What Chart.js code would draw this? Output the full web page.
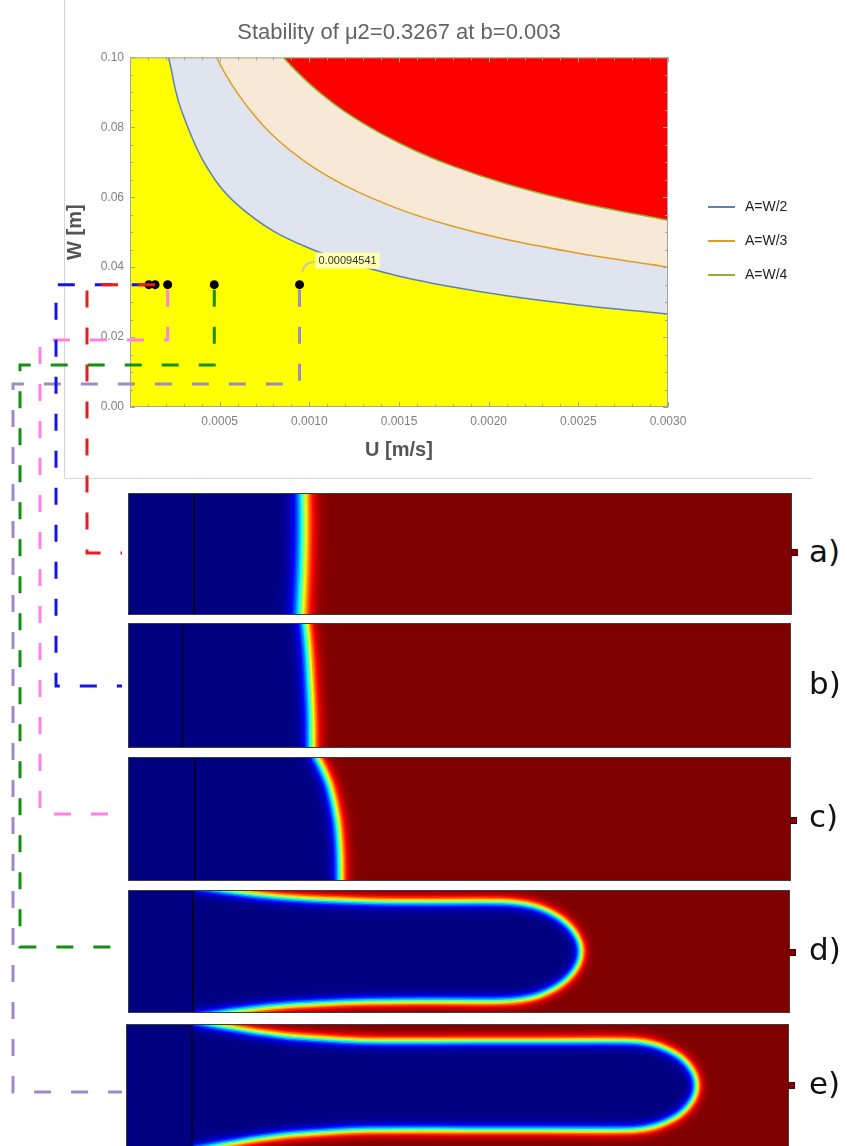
<!DOCTYPE html>
<html>
<head>
<meta charset="utf-8">
<title>Stability map</title>
<script src="https://cdn.jsdelivr.net/npm/chart.js@4.4.0/dist/chart.umd.min.js"></script>
<style>
  html, body { margin: 0; padding: 0; background: #fff; }
  #page { position: relative; width: 847px; height: 1146px; overflow: hidden; background: #fff; }
  #page canvas { position: absolute; }
  .tag { position: absolute; font-family: 'DejaVu Sans', Verdana, sans-serif; font-size: 31px; color: #111; line-height: 1; }
  .probe { position: absolute; width: 5px; height: 5px; background: #800000; border: 1px solid #4a0000; }
</style>
</head>
<body>
<div id="page">
  <canvas id="stability" width="847" height="480" style="left:0;top:0"></canvas>
</div>
<script>
// --- stability map: critical W(U) for each finger amplitude ---
const uHalf = [0.000215, 0.00023, 0.00025, 0.00027, 0.0003, 0.00035, 0.0004, 0.0005, 0.0006, 0.0008, 0.001, 0.0012, 0.0015, 0.0018, 0.0021, 0.0025, 0.003];
const wHalf = [0.1, 0.0966, 0.0915, 0.0875, 0.083, 0.0766, 0.0712, 0.0632, 0.0578, 0.0503, 0.0454, 0.0417, 0.0374, 0.0343, 0.0318, 0.0292, 0.0266];
const uThird = [0.000483, 0.00052, 0.0006, 0.0007, 0.0008, 0.001, 0.0012, 0.0015, 0.0018, 0.0021, 0.0025, 0.003];
const wThird = [0.1, 0.0963, 0.0897, 0.083, 0.0775, 0.0693, 0.0633, 0.0566, 0.0517, 0.0479, 0.044, 0.04];
const uQuarter = [0.000855, 0.0009, 0.001, 0.0011, 0.0012, 0.0014, 0.0016, 0.0018, 0.0021, 0.0025, 0.003];
const wQuarter = [0.1, 0.0975, 0.0925, 0.0882, 0.0844, 0.0782, 0.0731, 0.0689, 0.0638, 0.0585, 0.0534];
const curveNames = ['A=W/2', 'A=W/3', 'A=W/4'];
const uTickLabels = ['0.0005', '0.0010', '0.0015', '0.0020', '0.0025', '0.0030'];
const wTickLabels = ['0.00', '0.02', '0.04', '0.06', '0.08', '0.10'];

// simulated runs (all at W = 0.035 m)
const runU = [0.000105, 0.00014, 0.00021, 0.00047, 0.00094541];
const runW = 0.035;

// --- phase-field snapshots, channel coordinates in mm ---
const channelLength = 190;
const channelWidth = 35;
const panelTags = ['a)', 'b)', 'c)', 'd)', 'e)'];
const rodPos = [18.9, 15.7, 19.2, 18.6, 18.9];
const frontY = [0, 8.75, 17.5, 26.25, 35];
const frontA = [49.4, 49.8, 50.1, 50.2, 50.1];
const frontB = [52.6, 52.5, 52.1, 51.6, 50.8];
const frontCY = [0, 8.75, 17.5, 26.25, 31, 35];
const frontC = [60.8, 60.6, 59.8, 57.9, 56.0, 54.0];
// finger outlines: x along channel, depth of interface from the wall (upper half)
const fingerDX = [18.6, 30.3, 42.9, 57.2, 68.7, 85.8, 107.0, 112.7, 118.5, 124.5, 128.5, 129.9];
const fingerDDepth = [-1.15, 0.57, 2.0, 2.9, 3.3, 3.45, 3.45, 3.9, 5.3, 8.5, 12.8, 17.5];
const fingerEX = [18.9, 28.6, 43.8, 57.2, 69.2, 100, 120, 143.3, 148.5, 153.4, 158.7, 162.2, 163.4];
const fingerEDepth = [-0.9, 0.9, 3.2, 4.3, 4.9, 4.9, 4.9, 4.9, 5.3, 6.6, 9.4, 13.3, 17.5];

// --- layout (page pixels) ---
const panelBoxes = [
  { left: 128, top: 493, width: 664, height: 122 },
  { left: 128, top: 623, width: 663, height: 125 },
  { left: 128, top: 757, width: 663, height: 124 },
  { left: 128, top: 890, width: 662, height: 123 },
  { left: 126, top: 1024, width: 663, height: 123 }
];
const bandHalf = [28, 22, 20, 15, 15];
const bandSoft = [10, 8, 7, 5.5, 5.5];
const probeRows = [552, null, 820, 952, 1085];
const linkColors = ['#ee1a1a', '#1414e6', '#ff80e8', '#129012', '#9b8bc9'];
const linkFrom = [1, 0, 2, 3, 4];
const linkLaneX = [87, 56, 40, 20, 13];
const linkBendW = [null, null, 0.0192, 0.012, 0.0066];
const linkRowY = [553, 686, 814, 947, 1092];

Chart.defaults.font.family = "'Liberation Sans', Arial, sans-serif";

const toPoints = (xs, ys) => xs.map((x, i) => ({ x, y: ys[i] }));

// ---------- top chart ----------
const plotBackground = {
  id: 'plotBackground',
  beforeDatasetsDraw(chart) {
    const { ctx, chartArea: a } = chart;
    ctx.save();
    ctx.fillStyle = '#ffff00';
    ctx.fillRect(a.left, a.top, a.width, a.height);
    ctx.restore();
  }
};

// Mathematica-style frame with inward ticks on all four sides
const frameTicks = {
  id: 'frameTicks',
  afterDatasetsDraw(chart) {
    const { ctx, chartArea: a, scales: { x, y } } = chart;
    ctx.save();
    ctx.strokeStyle = '#a3a3a3';
    ctx.lineWidth = 1;
    ctx.strokeRect(a.left + 0.5, a.top + 0.5, a.width - 1, a.height - 1);
    ctx.beginPath();
    for (let k = 0; k <= 30; k++) {
      const px = Math.round(x.getPixelForValue(k * 0.0001)) + 0.5;
      const len = k % 5 === 0 ? 5 : 3;
      ctx.moveTo(px, a.bottom); ctx.lineTo(px, a.bottom - len);
      ctx.moveTo(px, a.top); ctx.lineTo(px, a.top + len);
    }
    for (let k = 0; k <= 20; k++) {
      const py = Math.round(y.getPixelForValue(k * 0.005)) + 0.5;
      const len = k % 4 === 0 ? 5 : 3;
      ctx.moveTo(a.left, py); ctx.lineTo(a.left + len, py);
      ctx.moveTo(a.right, py); ctx.lineTo(a.right - len, py);
    }
    ctx.stroke();
    // outline of the figure area
    ctx.strokeStyle = '#d6d6d6';
    ctx.beginPath();
    ctx.moveTo(64.5, 0); ctx.lineTo(64.5, 478.5); ctx.lineTo(812, 478.5);
    ctx.stroke();
    ctx.restore();
  }
};

// value callout next to the fastest run
const valueCallout = {
  id: 'valueCallout',
  afterDatasetsDraw(chart) {
    const idx = chart.data.datasets.findIndex(d => d.label === 'runs');
    const pt = chart.getDatasetMeta(idx).data[runU.length - 1];
    const { ctx } = chart;
    const x = pt.x, y = pt.y;
    ctx.save();
    ctx.strokeStyle = '#c4c4c4';
    ctx.lineWidth = 2;
    ctx.beginPath();
    ctx.moveTo(x + 3, y - 13);
    ctx.quadraticCurveTo(x + 4, y - 22, x + 15, y - 23);
    ctx.stroke();
    ctx.font = '11px "Liberation Sans", Arial, sans-serif';
    const text = String(runU[runU.length - 1]);
    const w = ctx.measureText(text).width;
    ctx.fillStyle = '#ffffb0';
    ctx.fillRect(x + 16, y - 32, w + 6, 16);
    ctx.fillStyle = '#333';
    ctx.textBaseline = 'middle';
    ctx.fillText(text, x + 19, y - 24);
    ctx.restore();
  }
};

const sideLegend = {
  id: 'sideLegend',
  afterDraw(chart) {
    const { ctx } = chart;
    ctx.save();
    ctx.font = '14px "Liberation Sans", Arial, sans-serif';
    ctx.textBaseline = 'middle';
    curveNames.forEach((name, i) => {
      const ds = chart.data.datasets.find(d => d.label === name);
      const y = 207 + i * 34;
      ctx.strokeStyle = ds.borderColor;
      ctx.lineWidth = 2;
      ctx.beginPath(); ctx.moveTo(708, y); ctx.lineTo(735, y); ctx.stroke();
      ctx.fillStyle = '#222';
      ctx.fillText(name, 745, y);
    });
    ctx.restore();
  }
};

const curveStyle = { borderWidth: 1.5, pointRadius: 0, cubicInterpolationMode: 'monotone', fill: 'end' };

const topChart = new Chart(document.getElementById('stability'), {
  type: 'line',
  data: {
    datasets: [
      { label: 'runs', data: runU.map(u => ({ x: u, y: runW })), showLine: false, pointRadius: 4.5,
        pointBackgroundColor: '#000', pointBorderColor: '#000', borderWidth: 0, order: 0 },
      { label: curveNames[2], data: toPoints(uQuarter, wQuarter), borderColor: '#8fb131', backgroundColor: '#ff0000', order: 1, ...curveStyle },
      { label: curveNames[1], data: toPoints(uThird, wThird), borderColor: '#e19c24', backgroundColor: '#f8e9d6', order: 2, ...curveStyle },
      { label: curveNames[0], data: toPoints(uHalf, wHalf), borderColor: '#5e81b5', backgroundColor: '#dfe4ef', order: 3, ...curveStyle }
    ]
  },
  options: {
    responsive: false,
    animation: false,
    events: [],
    layout: { padding: { left: 59, right: 179, top: 0, bottom: 14 } },
    plugins: {
      legend: { display: false },
      tooltip: { enabled: false },
      title: {
        display: true,
        fullSize: false,
        text: 'Stability of \u03bc2=0.3267 at b=0.003',
        color: '#636363',
        font: { size: 22, weight: 'normal' },
        padding: { top: 20, bottom: 11 }
      }
    },
    scales: {
      x: {
        type: 'linear', min: 0, max: 0.003,
        grid: { display: false, drawTicks: false },
        border: { display: false },
        ticks: {
          stepSize: 0.0005, autoSkip: false, maxRotation: 0, padding: 7,
          color: '#808080', font: { size: 12 },
          callback: (v, i) => (i === 0 ? '' : uTickLabels[i - 1])
        },
        title: { display: true, text: 'U [m/s]', color: '#555', font: { size: 20, weight: 'bold' }, padding: { top: 4, bottom: 4 } },
        afterFit: s => { s.height = 59; }
      },
      y: {
        type: 'linear', min: 0, max: 0.1,
        grid: { display: false, drawTicks: false },
        border: { display: false },
        ticks: {
          stepSize: 0.02, autoSkip: false, padding: 6,
          color: '#808080', font: { size: 12 },
          callback: (v, i) => wTickLabels[i]
        },
        title: { display: true, text: 'W [m]', color: '#555', font: { size: 20, weight: 'bold' }, padding: { top: 4, bottom: 4 } },
        afterFit: s => { s.width = 71; }
      }
    }
  },
  plugins: [plotBackground, frameTicks, valueCallout, sideLegend]
});

// ---------- snapshot panels ----------
const PX_PER_MM = 664 / channelLength;

function jet(t) {
  const c = v => Math.round(255 * Math.max(0, Math.min(1, v)));
  return `rgb(${c(1.5 - Math.abs(4 * t - 3))},${c(1.5 - Math.abs(4 * t - 2))},${c(1.5 - Math.abs(4 * t - 1))})`;
}

// shift a path sideways by dPx pixels (positive = towards the displaced phase)
function offsetPath(pts, dPx) {
  const d = dPx / PX_PER_MM;
  return pts.map((p, i) => {
    const a = pts[Math.max(i - 1, 0)], b = pts[Math.min(i + 1, pts.length - 1)];
    const tx = b.x - a.x, ty = b.y - a.y;
    const len = Math.hypot(tx, ty) || 1;
    return { x: p.x + d * ty / len, y: p.y - d * tx / len };
  });
}

function extendEnds(pts, mm) {
  const n = pts.length;
  const unit = (a, b) => { const l = Math.hypot(b.x - a.x, b.y - a.y) || 1; return { x: (b.x - a.x) / l, y: (b.y - a.y) / l }; };
  const s = unit(pts[1], pts[0]), e = unit(pts[n - 2], pts[n - 1]);
  return [{ x: pts[0].x + s.x * mm, y: pts[0].y + s.y * mm }, ...pts, { x: pts[n - 1].x + e.x * mm, y: pts[n - 1].y + e.y * mm }];
}

// closed finger outline: lower interface out to the tip, upper interface back
function fingerPath(xs, depth) {
  const lower = xs.map((x, i) => ({ x, y: depth[i] }));
  const upper = xs.slice(0, -1).map((x, i) => ({ x, y: channelWidth - depth[i] })).reverse();
  return [...lower, ...upper];
}

function bandDatasets(path, halfPx, softPx) {
  const steps = Math.ceil(2 * halfPx / 1.4);
  const w = 2 * halfPx / steps;
  const sets = [];
  for (let k = 0; k < steps; k++) {
    const d = -halfPx + (k + 0.5) * w;
    const t = 0.5 + 0.5 * Math.tanh(d / softPx);
    sets.push({ data: offsetPath(path, d), borderColor: jet(t), borderWidth: w + 0.7, tension: 0.4,
      pointRadius: 0, fill: false, borderCapStyle: 'butt', order: 5 });
  }
  return sets;
}

const interfaces = [
  extendEnds(toPoints(frontA, frontY), 4),
  extendEnds(toPoints(frontB, frontY), 4),
  extendEnds(toPoints(frontC, frontCY), 4),
  fingerPath(fingerDX, fingerDDepth),
  fingerPath(fingerEX, fingerEDepth)
];

const panelFrame = {
  id: 'panelFrame',
  beforeDatasetsDraw(chart) {
    const { ctx, chartArea: a } = chart;
    ctx.save();
    ctx.fillStyle = '#800000';
    ctx.fillRect(a.left, a.top, a.width, a.height);
    ctx.restore();
  },
  afterDraw(chart) {
    const { ctx, chartArea: a } = chart;
    ctx.save();
    ctx.strokeStyle = '#3c3c3c';
    ctx.lineWidth = 1;
    ctx.strokeRect(a.left + 0.5, a.top + 0.5, a.width - 1, a.height - 1);
    ctx.restore();
  }
};

const page = document.getElementById('page');

panelBoxes.forEach((box, p) => {
  const canvas = document.createElement('canvas');
  canvas.width = box.width;
  canvas.height = box.height;
  canvas.style.left = box.left + 'px';
  canvas.style.top = box.top + 'px';
  page.appendChild(canvas);

  const path = interfaces[p];
  const inner = [{ x: -2, y: -3 }, ...path, { x: -2, y: channelWidth + 3 }];
  const datasets = [
    { data: [{ x: rodPos[p], y: -1 }, { x: rodPos[p], y: channelWidth + 1 }], borderColor: '#000', borderWidth: 1.3, pointRadius: 0, fill: false, order: 0 },
    ...bandDatasets(path, bandHalf[p], bandSoft[p]),
    { data: inner, borderWidth: 0, borderColor: 'rgba(0,0,0,0)', backgroundColor: '#000080', fill: 'shape', pointRadius: 0, tension: 0, order: 10 }
  ];

  new Chart(canvas, {
    type: 'line',
    data: { datasets },
    options: {
      responsive: false,
      animation: false,
      events: [],
      layout: { padding: 0 },
      plugins: { legend: { display: false }, tooltip: { enabled: false } },
      scales: {
        x: { type: 'linear', min: 0, max: channelLength, display: false },
        y: { type: 'linear', min: 0, max: channelWidth, display: false }
      }
    },
    plugins: [panelFrame]
  });

  const tag = document.createElement('div');
  tag.className = 'tag';
  tag.textContent = panelTags[p];
  tag.style.left = '809px';
  tag.style.top = (box.top + box.height / 2 - 18) + 'px';
  page.appendChild(tag);

  if (probeRows[p] !== null) {
    const probe = document.createElement('div');
    probe.className = 'probe';
    probe.style.left = (box.left + box.width - 1) + 'px';
    probe.style.top = (probeRows[p] - 3) + 'px';
    page.appendChild(probe);
  }
});

// ---------- dashed leaders from each run to its snapshot ----------
const xs = topChart.scales.x, ys = topChart.scales.y;
const routes = linkFrom.map((src, i) => {
  const dx = xs.getPixelForValue(runU[src]);
  const dy = ys.getPixelForValue(runW);
  const endX = 122;
  if (linkBendW[i] === null) {
    return [{ x: dx, y: dy }, { x: linkLaneX[i], y: dy }, { x: linkLaneX[i], y: linkRowY[i] }, { x: endX, y: linkRowY[i] }];
  }
  const by = ys.getPixelForValue(linkBendW[i]);
  return [{ x: dx, y: dy + 5 }, { x: dx, y: by }, { x: linkLaneX[i], y: by }, { x: linkLaneX[i], y: linkRowY[i] }, { x: endX, y: linkRowY[i] }];
});

const linkCanvas = document.createElement('canvas');
linkCanvas.width = 847;
linkCanvas.height = 1146;
linkCanvas.style.left = '0px';
linkCanvas.style.top = '0px';
linkCanvas.style.pointerEvents = 'none';
page.appendChild(linkCanvas);

new Chart(linkCanvas, {
  type: 'line',
  data: {
    datasets: routes.map((pts, i) => ({
      data: pts, borderColor: linkColors[i], borderWidth: 3, borderDash: [17, 20],
      borderJoinStyle: 'miter', pointRadius: 0, fill: false, tension: 0
    }))
  },
  options: {
    responsive: false,
    animation: false,
    events: [],
    layout: { padding: 0 },
    plugins: { legend: { display: false }, tooltip: { enabled: false } },
    scales: {
      x: { type: 'linear', min: 0, max: 847, display: false },
      y: { type: 'linear', min: 0, max: 1146, reverse: true, display: false }
    }
  }
});
</script>
</body>
</html>
